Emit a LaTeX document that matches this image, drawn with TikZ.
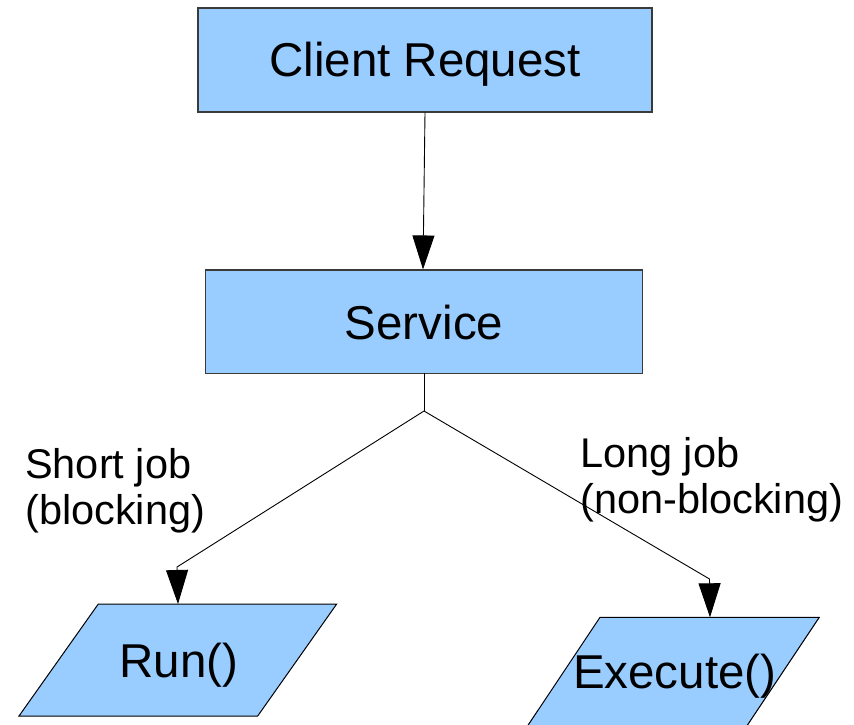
\documentclass[tikz,border=0pt]{standalone}
\usepackage{fontspec}
\setmainfont{Liberation Sans}
\usetikzlibrary{arrows.meta,calc}
\definecolor{boxblue}{HTML}{99CCFF}
\definecolor{edgegray}{HTML}{3A3A3A}
\begin{document}
\begin{tikzpicture}[x=1pt,y=-1pt,
  procbox/.style={draw=edgegray,fill=boxblue,line width=1.2pt,inner sep=0pt},
  iobox/.style={draw=black,fill=boxblue,line width=1pt},
  boxtext/.style={inner sep=0pt,font=\fontsize{47.5}{54}\selectfont},
  jobtext/.style={inner sep=0pt,anchor=base west,align=left,
    font=\fontsize{41.5}{46}\selectfont},
  flow/.style={draw=black,line width=0.9pt},
  head/.style={-{Triangle[width=22pt,length=34pt]}}]
  \useasboundingbox (0,0) rectangle (854,725);
  \clip (0,0) rectangle (854,725);

  % process boxes
  \node[procbox,minimum width=454pt,minimum height=104pt] (cr) at (425,60) {};
  \node[boxtext,anchor=base] (crtext) at (425,77) {Client Request};
  \node[procbox,minimum width=436.6pt,minimum height=103.3pt] (svc) at (424,321.7) {};
  \node[boxtext,anchor=base] (svctext) at (424,339) {Service};

  % parallelogram outlines for the two job handlers
  \coordinate (runTL) at (98.3,604);
  \coordinate (runTR) at (336.7,604);
  \coordinate (runBR) at (257.7,716);
  \coordinate (runBL) at (19,716);
  \draw[iobox] (runTL) -- (runTR) -- (runBR) -- (runBL) -- cycle;
  \node[boxtext,anchor=base] (run) at (178.7,677.3) {Run()};

  \coordinate (exTL) at (600,617.3);
  \coordinate (exTR) at (819.3,617.3);
  \coordinate (exBR) at (744.6,729.3);
  \coordinate (exBL) at (525.3,729.3);
  \draw[iobox] (exTL) -- (exTR) -- (exBR) -- (exBL) -- cycle;
  \node[boxtext,anchor=base] (exe) at (674.7,688.3) {Execute()};

  % connector bends and arrow targets
  \coordinate (svcout) at (424,373.3);
  \coordinate (split) at (424,411);
  \coordinate (runbend) at (177,567);
  \coordinate (runin) at (178,604);
  \coordinate (exbend) at (709.5,579);
  \coordinate (exin) at (710,617.3);

  \draw[flow,head] (cr.south) -- ($(svc.north)+(-1,0)$);
  \draw[flow] (svcout) -- (split);
  \draw[flow,head] (split) -- (runbend) -- (runin);
  \draw[flow,head] (split) -- (exbend) -- (exin);

  % branch labels (base anchor sits on the last line)
  \node[jobtext] (shortlbl) at (25,524.3) {Short job\\(blocking)};
  \node[jobtext] (longlbl) at (580,513.5) {Long job\\(non-blocking)};
\end{tikzpicture}
\end{document}
